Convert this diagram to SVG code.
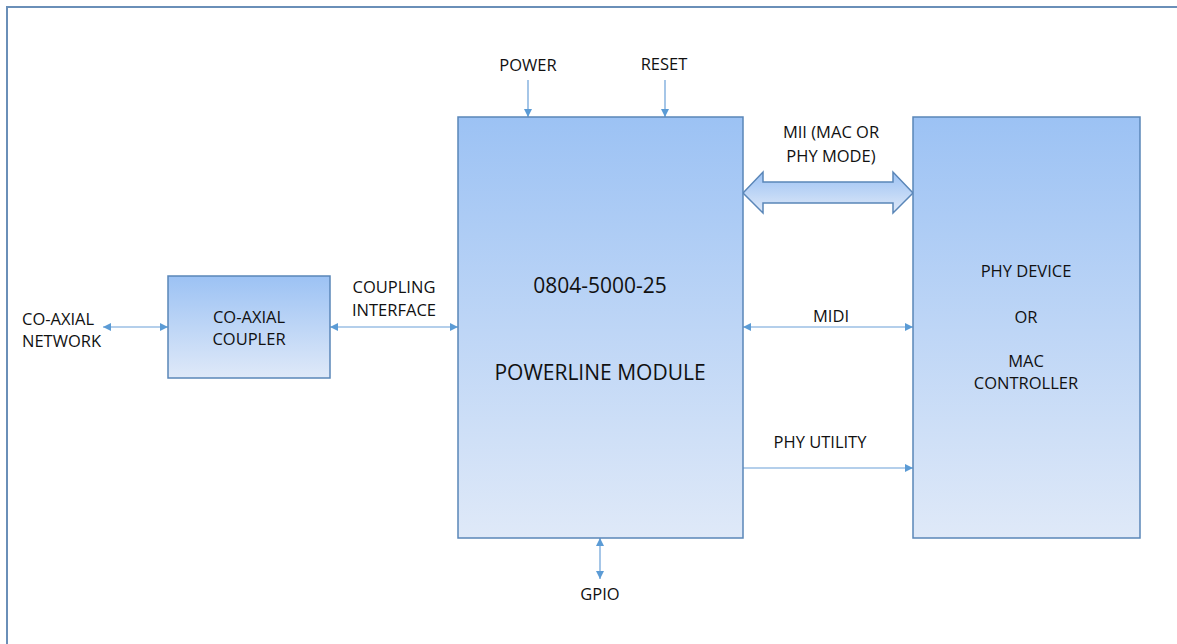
<svg xmlns="http://www.w3.org/2000/svg" width="1177" height="644" viewBox="0 0 1177 644">
<style>
text{font-family:"Open Sans","Liberation Sans",sans-serif;font-size:16.5px;fill:#111;text-anchor:middle}
.big{font-size:21px}
.l{text-anchor:start}
.box{fill:url(#g);stroke:#5a86b8;stroke-width:1.5}
.c{stroke:#6aa0d8;stroke-width:1.2;fill:none}
</style>
<defs>
<linearGradient id="g" x1="0" y1="0" x2="0" y2="1">
<stop offset="0" stop-color="#9cc2f4"/>
<stop offset="1" stop-color="#dfe9f8"/>
</linearGradient>
<linearGradient id="ga" x1="0" y1="0" x2="0" y2="1">
<stop offset="0" stop-color="#9cc2f4"/>
<stop offset="1" stop-color="#dfe9f8"/>
</linearGradient>
<marker id="ah" viewBox="0 0 10 10" refX="10" refY="5" markerWidth="8" markerHeight="8" markerUnits="userSpaceOnUse" orient="auto-start-reverse">
<path d="M0,0 L10,5 L0,10 z" fill="#5b9bd5"/>
</marker>
</defs>
<rect x="0" y="0" width="1177" height="644" fill="#fff"/>
<rect x="7" y="7" width="1200" height="700" fill="none" stroke="#6a8fb8" stroke-width="2"/>

<g id="connectors">
<line class="c" x1="528" y1="80" x2="528" y2="117" marker-end="url(#ah)"/>
<line class="c" x1="665" y1="80" x2="665" y2="117" marker-end="url(#ah)"/>
<line class="c" x1="103" y1="327" x2="168" y2="327" marker-start="url(#ah)" marker-end="url(#ah)"/>
<line class="c" x1="330" y1="327" x2="458" y2="327" marker-start="url(#ah)" marker-end="url(#ah)"/>
<line class="c" x1="743" y1="327" x2="913" y2="327" marker-start="url(#ah)" marker-end="url(#ah)"/>
<line class="c" x1="743" y1="468" x2="913" y2="468" marker-end="url(#ah)"/>
<line class="c" x1="600" y1="538" x2="600" y2="579" marker-start="url(#ah)" marker-end="url(#ah)"/>
<path id="mii" d="M743,193 L763,172 L763,182 L893,182 L893,172 L913,193 L893,213 L893,203 L763,203 L763,213 Z" fill="url(#ga)" stroke="#5a86b8" stroke-width="1.5"/>
</g>

<g id="network">
<text class="l" x="22" y="325">CO-AXIAL</text>
<text class="l" x="22" y="347">NETWORK</text>
</g>
<g id="coupler">
<rect class="box" x="168" y="276" width="162" height="102"/>
<text x="249" y="323">CO-AXIAL</text>
<text x="249" y="345">COUPLER</text>
</g>
<g id="coupling-label">
<text x="394" y="293">COUPLING</text>
<text x="394" y="316">INTERFACE</text>
</g>
<g id="module">
<rect class="box" x="458" y="117" width="285" height="421"/>
<text class="big" x="600" y="293">0804-5000-25</text>
<text class="big" x="600" y="380">POWERLINE MODULE</text>
</g>
<g id="power"><text x="528" y="71">POWER</text></g>
<g id="reset"><text x="664" y="70">RESET</text></g>
<g id="mii-label">
<text x="831" y="138">MII (MAC OR</text>
<text x="831" y="162">PHY MODE)</text>
</g>
<g id="midi"><text x="831" y="322">MIDI</text></g>
<g id="phyutil"><text x="820" y="448">PHY UTILITY</text></g>
<g id="gpio"><text x="600" y="600">GPIO</text></g>
<g id="phy">
<rect class="box" x="913" y="117" width="227" height="421"/>
<text x="1026" y="277">PHY DEVICE</text>
<text x="1026" y="323">OR</text>
<text x="1026" y="367">MAC</text>
<text x="1026" y="389">CONTROLLER</text>
</g>
</svg>
